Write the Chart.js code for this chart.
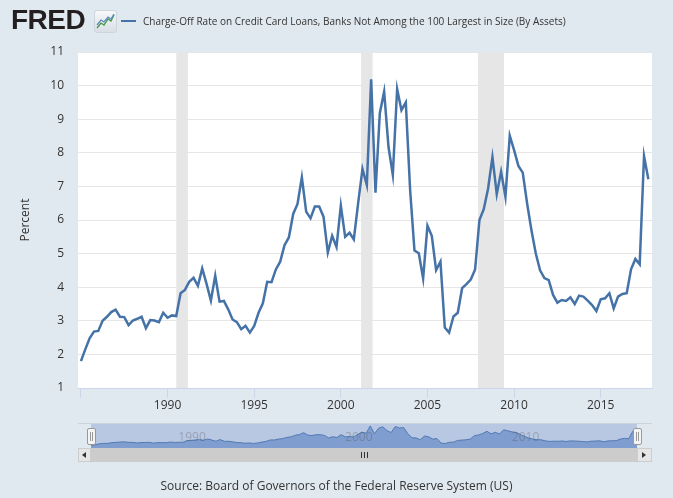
<!DOCTYPE html>
<html>
<head>
<meta charset="utf-8">
<script src="https://cdn.jsdelivr.net/npm/chart.js@4.4.0/dist/chart.umd.min.js"></script>
<style>
body { margin: 0; background: #e1e9f0; font-family: "Open Sans", sans-serif; }
#wrap { position: relative; width: 673px; height: 498px; overflow: hidden; }
#main { position: absolute; left: 0; top: 0; }
.abs { position: absolute; }
#logo { left: 11px; top: 6px; font: bold 28px "Liberation Sans", Arial, sans-serif; color: #231f20; letter-spacing: -0.5px; line-height: 28px; }
#icon { left: 94px; top: 10px; width: 21px; height: 21px; border-radius: 3px; border: 1px solid #cdd4dc; background: linear-gradient(#f7f8fa, #d9dfe6); }
#legLine { left: 121px; top: 20px; width: 15px; height: 2px; background: #4572a7; }
#legText { left: 143px; top: 12px; font-size: 10px; color: #333; white-space: nowrap; line-height: 18px; }
#navTop { left: 78px; top: 423px; width: 574px; height: 1px; background: #ccd3dc; }
#mask { left: 91px; top: 424px; width: 546px; height: 24px; background: #b9c8e2; }
#nav { position: absolute; left: 91px; top: 424px; }
.handle { top: 428px; width: 7px; height: 15px; border: 1px solid #999; border-radius: 2px;
  background: linear-gradient(to right, transparent 2px, #999 2px, #999 3px, transparent 3px, transparent 4px, #999 4px, #999 5px, transparent 5px), #f4f4f4;
  background-size: 100% 9px; background-position: 0 3px; background-repeat: no-repeat; }
#track { left: 78px; top: 448px; width: 574px; height: 14px; background: #f2f2f2; }
#thumb { left: 91px; top: 448px; width: 546px; height: 14px; background: #cccccc; }
#grip { left: 361px; top: 452px; width: 7px; height: 6px;
  background: linear-gradient(to right, #333 1px, transparent 1px, transparent 3px, #333 3px, #333 4px, transparent 4px, transparent 6px, #333 6px); }
.btn { top: 448px; height: 12px; background: #e6e6e6; border: 1px solid #cccccc; }
#btnL { left: 78px; width: 11px; }
#btnR { left: 637px; width: 13px; }
.arrow { width: 0; height: 0; border-top: 3px solid transparent; border-bottom: 3px solid transparent; top: 452px; }
#arrL { left: 82px; border-right: 4px solid #333; }
#arrR { left: 642px; border-left: 4px solid #333; }
#source { left: 0; top: 477px; width: 673px; text-align: center; font-size: 12px; color: #333; }
</style>
</head>
<body>
<div id="wrap">
  <canvas id="main" width="673" height="498"></canvas>
  <div id="logo" class="abs">FRED</div>
  <div id="icon" class="abs">
    <svg width="21" height="21" viewBox="0 0 21 21">
      <polyline points="2,17 6,12 9,14 13,8 16,10 19,4" fill="none" stroke="#3f9b45" stroke-width="1.3"/>
      <polyline points="2,14 6,9 9,11 13,6 16,8 19,3" fill="none" stroke="#5d8ac4" stroke-width="1.3"/>
    </svg>
  </div>
  <div id="legLine" class="abs"></div>
  <div id="legText" class="abs">Charge-Off Rate on Credit Card Loans, Banks Not Among the 100 Largest in Size (By Assets)</div>
  <div id="navTop" class="abs"></div>
  <div id="mask" class="abs"></div>
  <canvas id="nav" width="546" height="24"></canvas>
  <div id="track" class="abs"></div>
  <div id="thumb" class="abs"></div>
  <div id="grip" class="abs"></div>
  <div id="btnL" class="abs btn"></div>
  <div id="btnR" class="abs btn"></div>
  <div id="arrL" class="abs arrow"></div>
  <div id="arrR" class="abs arrow"></div>
  <div class="abs handle" style="left:87px"></div>
  <div class="abs handle" style="left:633px"></div>
  <div id="source" class="abs">Source: Board of Governors of the Federal Reserve System (US)</div>
</div>
<script>
// quarterly observations, 1985 Q1 .. 2017 Q4
const firstYear = 1985;
const chargeOffRate = [
  1.80, 2.15, 2.48, 2.68, 2.70, 3.00, 3.12, 3.26, 3.33, 3.12, 3.11, 2.87,
  3.01, 3.06, 3.12, 2.78, 3.02, 3.01, 2.96, 3.24, 3.09, 3.16, 3.14, 3.82,
  3.92, 4.16, 4.28, 4.04, 4.56, 4.10, 3.60, 4.34, 3.57, 3.59, 3.34, 3.04,
  2.96, 2.75, 2.85, 2.65, 2.85, 3.24, 3.52, 4.16, 4.15, 4.53, 4.76, 5.25,
  5.48, 6.18, 6.48, 7.27, 6.25, 6.05, 6.40, 6.40, 6.10, 5.03, 5.53, 5.20,
  6.43, 5.50, 5.62, 5.42, 6.50, 7.52, 7.04, 10.19, 6.81, 9.18, 9.82, 8.18,
  7.34, 9.90, 9.27, 9.50, 6.89, 5.09, 5.01, 4.26, 5.83, 5.53, 4.51, 4.76,
  2.80, 2.65, 3.13, 3.24, 3.97, 4.09, 4.23, 4.53, 6.00, 6.32, 6.94, 7.87,
  6.77, 7.44, 6.69, 8.51, 8.08, 7.61, 7.41, 6.50, 5.70, 5.01, 4.50, 4.27,
  4.21, 3.77, 3.54, 3.62, 3.59, 3.70, 3.50, 3.75, 3.72, 3.60, 3.47, 3.29,
  3.64, 3.67, 3.82, 3.37, 3.72, 3.80, 3.82, 4.53, 4.84, 4.68, 7.90, 7.21
];
const xTickYears = [1985, 1990, 1995, 2000, 2005, 2010, 2015];
const xTickLabels = ['', '1990', '1995', '2000', '2005', '2010', '2015'];
const navTickYears = [1990, 2000, 2010];
const recessionStart = [1990.50, 2001.17, 2007.92];
const recessionEnd = [1991.17, 2001.83, 2009.42];

const points = chargeOffRate.map((v, i) => ({ x: firstYear + i / 4, y: v }));

const recessionBands = {
  id: 'recessionBands',
  beforeDraw(chart) {
    const a = chart.chartArea;
    chart.ctx.save();
    chart.ctx.fillStyle = '#ffffff';
    chart.ctx.fillRect(a.left, a.top, a.right - a.left, a.bottom - a.top);
    chart.ctx.restore();
  },
  beforeDatasetsDraw(chart) {
    const { ctx, chartArea, scales } = chart;
    ctx.save();
    ctx.fillStyle = '#e6e6e6';
    recessionStart.forEach((s, i) => {
      const x1 = scales.x.getPixelForValue(s);
      const x2 = scales.x.getPixelForValue(recessionEnd[i]);
      ctx.fillRect(x1, chartArea.top, x2 - x1, chartArea.bottom - chartArea.top);
    });
    ctx.restore();
  }
};

new Chart(document.getElementById('main'), {
  type: 'line',
  data: {
    datasets: [{
      data: points,
      borderColor: '#4572a7',
      borderWidth: 2.5,
      pointRadius: 0,
      tension: 0,
      fill: false
    }]
  },
  options: {
    responsive: false,
    animation: false,
    layout: { padding: { top: 52, right: 21, bottom: 80, left: 0 } },
    plugins: { legend: { display: false }, tooltip: { enabled: false } },
    scales: {
      x: {
        type: 'linear',
        min: 1984.83,
        max: 2017.96,
        afterBuildTicks: s => { s.ticks = xTickYears.map(v => ({ value: v })); },
        afterFit: s => { s.height = 30; },
        grid: { drawOnChartArea: false, drawTicks: true, tickLength: 10, color: '#ccd6eb' },
        border: { color: '#ccd6eb' },
        ticks: {
          autoSkip: false, maxRotation: 0, padding: 0,
          color: '#333', font: { family: 'Open Sans', size: 12 },
          callback: (v, i) => xTickLabels[i]
        }
      },
      y: {
        min: 1,
        max: 11,
        afterFit: s => { s.width = 78; },
        grid: { color: '#e6e6e6', drawTicks: false },
        border: { display: false },
        ticks: { stepSize: 1, padding: 14, color: '#333', font: { family: 'Open Sans', size: 12 } },
        title: {
          display: true, text: 'Percent', color: '#333',
          font: { family: 'Open Sans', size: 12 }, padding: { top: 18, bottom: 0 }
        }
      }
    }
  },
  plugins: [recessionBands]
});

const navLabels = {
  id: 'navLabels',
  afterDatasetsDraw(chart) {
    const { ctx, scales } = chart;
    ctx.save();
    ctx.fillStyle = 'rgba(90,90,90,0.35)';
    ctx.font = '12px "Open Sans"';
    ctx.textBaseline = 'middle';
    navTickYears.forEach(y => ctx.fillText(String(y), scales.x.getPixelForValue(y) + 4, 14));
    ctx.restore();
  }
};

new Chart(document.getElementById('nav'), {
  type: 'line',
  data: {
    datasets: [{
      data: points,
      borderColor: '#5079b3',
      borderWidth: 1,
      backgroundColor: '#7f9dcf',
      fill: 'start',
      pointRadius: 0,
      tension: 0
    }]
  },
  options: {
    responsive: false,
    animation: false,
    layout: { padding: 0 },
    plugins: { legend: { display: false }, tooltip: { enabled: false } },
    scales: {
      x: { type: 'linear', display: false, min: 1985, max: 2017.75 },
      y: { display: false, min: 0.7, max: 11 }
    }
  },
  plugins: [navLabels]
});
</script>
</body>
</html>
